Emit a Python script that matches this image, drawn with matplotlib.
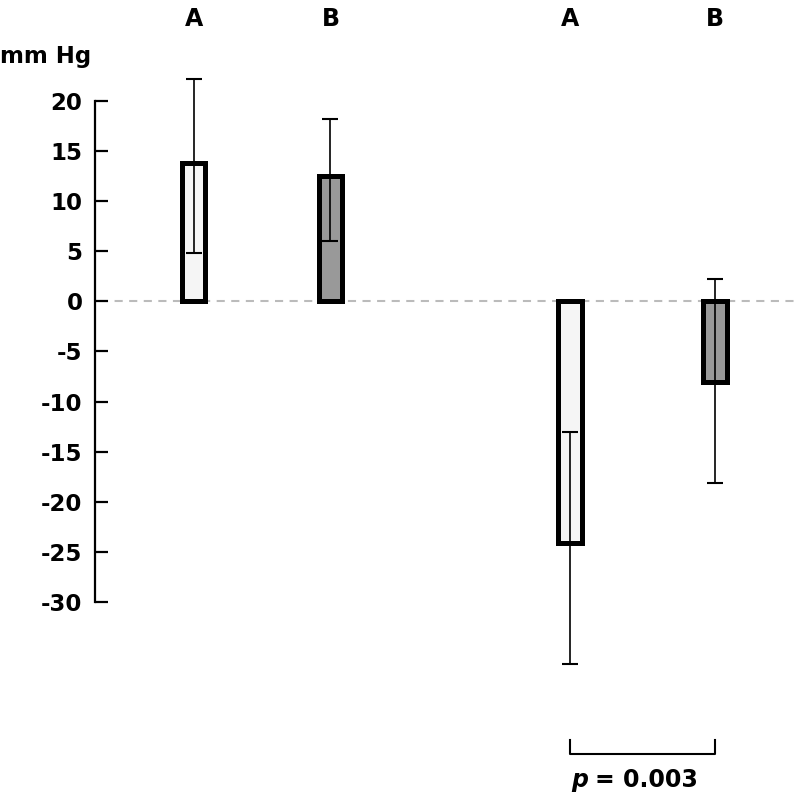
import matplotlib.pyplot as plt

# Data
labels = ['A', 'B', 'A', 'B']
xpos = [1.0, 2.0, 3.75, 4.81]
means = [13.8, 12.5, -24.1, -8.1]
err_low = [9.0, 6.5, 12.1, 10.0]
err_high = [8.4, 5.7, 11.1, 10.3]
fills = ['#f5f5f5', '#999999', '#f5f5f5', '#999999']
p_text = '= 0.003'

plt.rcParams['font.family'] = ['DejaVu Sans']
plt.rcParams['axes.unicode_minus'] = False

fig = plt.figure(figsize=(8, 8), dpi=100)
ax = fig.add_axes([95 / 800, 0, 705 / 800, 1])
ax.set_xlim(0.28, 5.43)
ax.set_ylim(-49.8, 30.1)

# zero reference line
ax.axhline(0, xmin=0.007, xmax=1, color='#bbbbbb', lw=1.5, ls=(0, (3.9, 3.1)), zorder=1)

# bars
ax.bar(xpos, means, width=0.17, color=fills, edgecolor='black', linewidth=3.6, zorder=2)

# error bars
ax.errorbar(xpos, means, yerr=[err_low, err_high], fmt='none', ecolor='black',
            elinewidth=1.2, capsize=5.5, capthick=1.5, zorder=3)

# axis styling
for side in ['top', 'right', 'bottom']:
    ax.spines[side].set_visible(False)
ax.spines['left'].set_bounds(-30, 20)
ax.spines['left'].set_linewidth(1.6)
ax.set_yticks(range(-30, 25, 5))
ax.tick_params(axis='y', direction='in', length=9.5, width=1.6, pad=9, labelsize=16.5)
for t in ax.get_yticklabels():
    t.set_fontweight('bold')
ax.set_xticks([])

# group labels on top
for x, lab in zip(xpos, labels):
    ax.text(x, 28.2, lab, ha='center', va='center', fontsize=17, fontweight='bold')

fig.text(0.0, 0.929, 'mm Hg', ha='left', va='center', fontsize=16.5, fontweight='bold')

# significance bracket
y_br = -45.2
ax.plot([xpos[2], xpos[2], xpos[3], xpos[3]], [y_br + 1.4, y_br, y_br, y_br + 1.4],
        color='black', lw=1.5, clip_on=False)
xm = (xpos[2] + xpos[3]) / 2
ax.text(xm - 0.4, y_br - 2.6, 'p', ha='right', va='center', fontsize=17,
        fontweight='bold', style='italic')
ax.text(xm - 0.35, y_br - 2.6, p_text, ha='left', va='center', fontsize=17,
        fontweight='bold')

fig.savefig('out.png', dpi=100)
